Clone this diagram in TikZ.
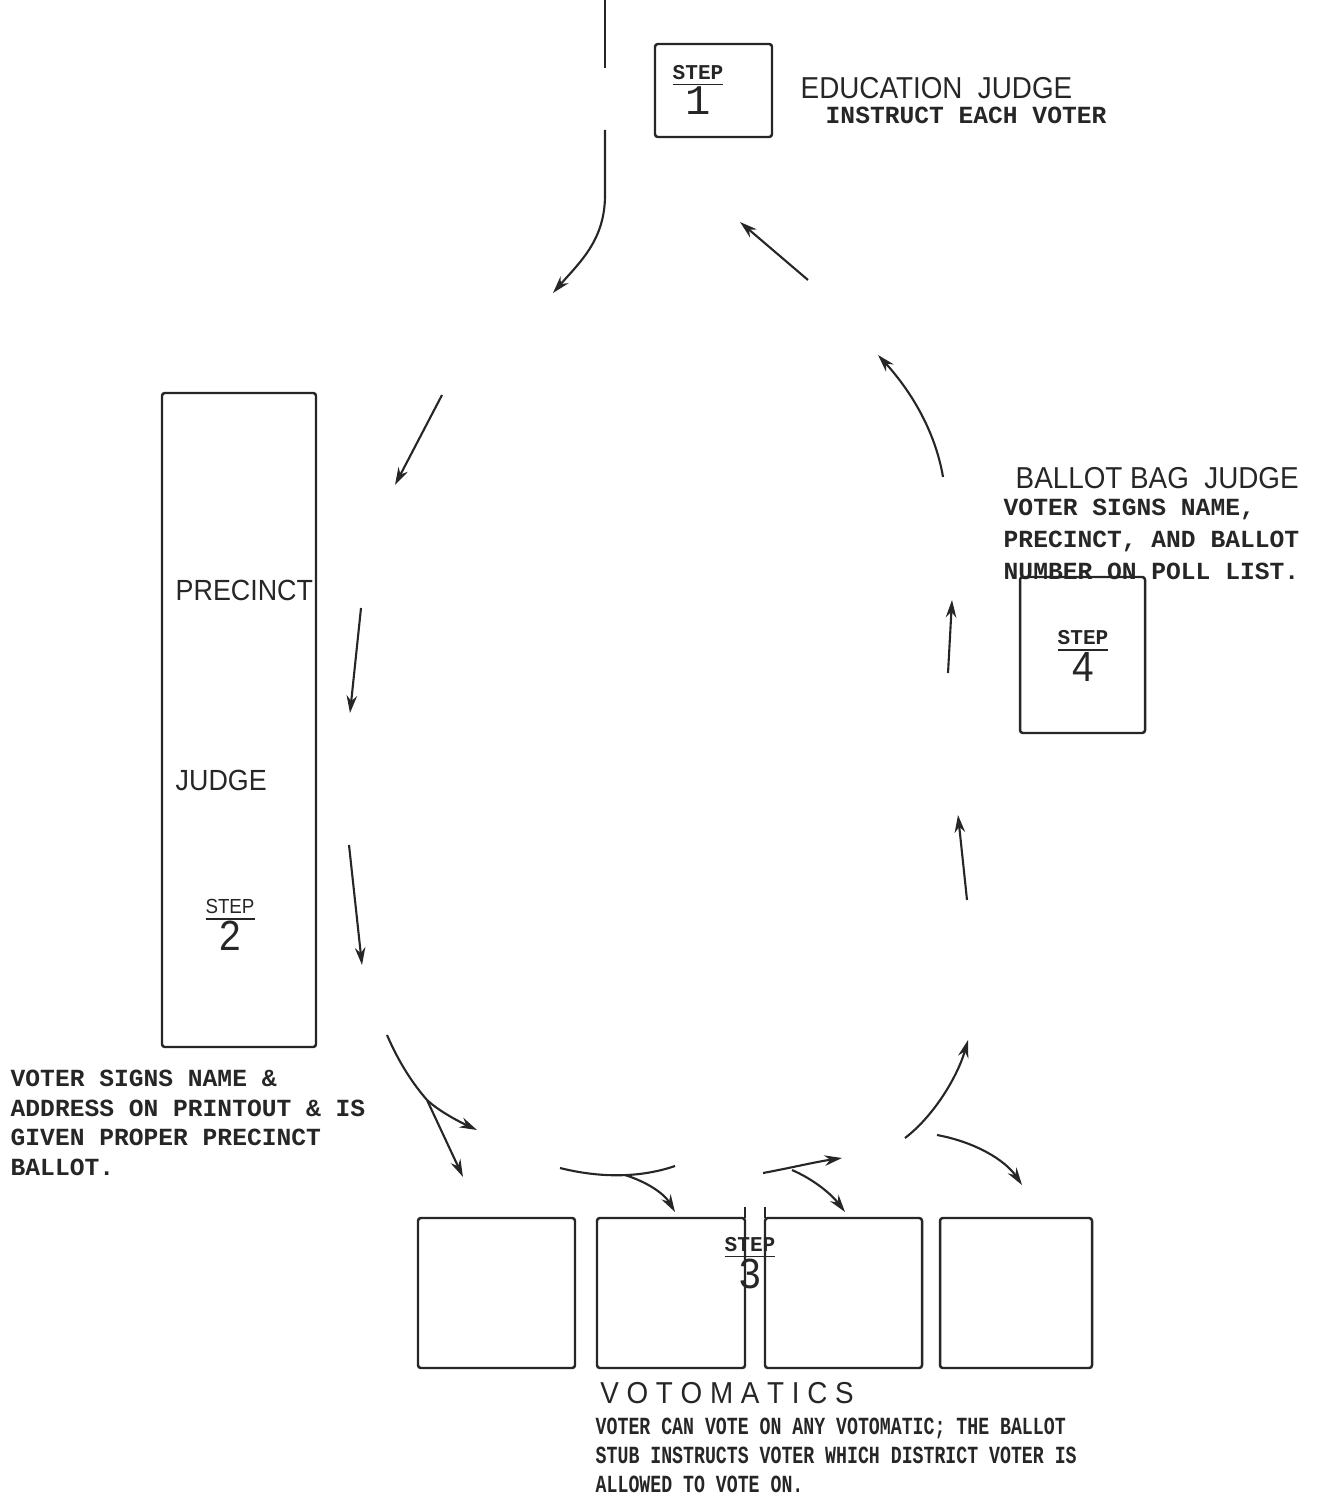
\documentclass[tikz,border=0pt]{standalone}
\usepackage{fontspec}
\usetikzlibrary{arrows.meta}
\newfontfamily\letterfont[FakeStretch=0.92]{Liberation Sans}
\newfontfamily\typefont{Liberation Mono}
\newfontfamily\typecond[FakeStretch=0.74]{Liberation Mono}
\definecolor{ink}{HTML}{262626}
\newcommand{\steptag}[2][\letterfont]{\underline{STEP}\\[-1pt]{#1\mdseries\fontsize{12}{12}\selectfont #2}}
\tikzset{
  flow/.style={ink,line width=0.6pt,-{Stealth[length=5pt,width=3pt]}},
  plain/.style={ink,line width=0.6pt},
  booth/.style={ink,line width=0.7pt,rounded corners=0.8pt},
  heading/.style={font=\letterfont\fontsize{8.6}{9}\selectfont,inner sep=0pt,anchor=west,ink},
  typed/.style={font=\typefont\bfseries\fontsize{7}{9.1}\selectfont,inner sep=0pt,align=left,ink},
  steplbl/.style={font=\typefont\bfseries\fontsize{6}{7}\selectfont,align=center,inner sep=0pt,ink},
}

\begin{document}
\begin{tikzpicture}[x=0.01cm,y=-0.01cm]
  \useasboundingbox (0,0) rectangle (1319,1501);
  % step 1 : education judge
  \draw[plain] (605,0) -- (605,68);
  \draw[booth] (655,44) rectangle (772,137);
  \node[steplbl] (step1) at (698,90) {\steptag[\typefont]{1}};
  \node[heading] (edujudge) at (800,88) {EDUCATION\ \ JUDGE};
  \node[typed,anchor=west] (edunote) at (825,115) {INSTRUCT EACH VOTER};
  \draw[flow] (605,130) -- (605,195) .. controls (605,240) and (580,262) .. (553,293);
  \draw[flow] (808,280) -- (740,222);

  % step 2 : precinct judge
  \draw[booth] (162,393) rectangle (316,1047);
  \node[heading,font=\letterfont\fontsize{8.3}{9}\selectfont] (precinct) at (175,590) {PRECINCT};
  \node[heading,font=\letterfont\fontsize{8.3}{9}\selectfont] (judge) at (175,780) {JUDGE};
  \node[steplbl,font=\letterfont\fontsize{5.8}{7}\selectfont] (step2) at (230,925) {\steptag{2}};
  \node[typed,anchor=north west,font=\typefont\bfseries\fontsize{7}{8.5}\selectfont] (signnote) at (10,1069)
    {VOTER SIGNS NAME \&\\ADDRESS ON PRINTOUT \& IS\\GIVEN PROPER PRECINCT\\BALLOT.};
  \draw[flow] (442,395) -- (395,485);
  \draw[flow] (361,608) -- (350,713);
  \draw[flow] (349,845) -- (362,965);
  \coordinate (fork) at (427,1100);
  \draw[plain] (387,1035) .. controls (400,1065) and (414,1085) .. (fork);
  \draw[flow] (fork) .. controls (440,1112) and (460,1122) .. (477,1130);
  \draw[flow] (fork) -- (463,1177);

  % step 3 : votomatics
  \draw[booth] (418,1218) rectangle (575,1368);
  \draw[booth] (597,1218) rectangle (745,1368);
  \draw[booth] (765,1218) rectangle (922,1368);
  \draw[booth] (940,1218) rectangle (1092,1368);
  \draw[booth] (745,1207) -- (745,1218);
  \draw[booth] (765,1207) -- (765,1218);
  \node[steplbl] (step3) at (750,1263) {\steptag{3}};
  \node[heading,anchor=center] (voto) at (727,1393) {V O T O M A T I C S};
  \node[typed,anchor=north west,font=\typecond\bfseries\fontsize{7}{8.25}\selectfont] (votonote) at (595,1417)
    {VOTER CAN VOTE ON ANY VOTOMATIC; THE BALLOT\\STUB INSTRUCTS VOTER WHICH DISTRICT VOTER IS\\ALLOWED TO VOTE ON.};
  \coordinate (split2) at (625,1175);
  \draw[plain] (560,1168) .. controls (600,1178) and (640,1178) .. (675,1166);
  \draw[flow] (split2) .. controls (650,1183) and (665,1195) .. (675,1212);
  \coordinate (split3) at (792,1170);
  \draw[flow] (763,1173) .. controls (790,1168) and (815,1162) .. (842,1158);
  \draw[flow] (split3) .. controls (815,1180) and (832,1195) .. (845,1212);
  \draw[flow] (905,1138) .. controls (935,1115) and (958,1075) .. (968,1040);
  \draw[flow] (937,1135) .. controls (975,1142) and (1005,1160) .. (1022,1185);

  % step 4 : ballot bag judge
  \draw[flow] (967,900) -- (958,815);
  \draw[flow] (948,673) -- (952,600);
  \draw[booth] (1020,577) rectangle (1145,733);
  \node[steplbl] (step4) at (1083,656) {\steptag{4}};
  \node[heading] (bagjudge) at (1015,478) {BALLOT\ BAG\ \ JUDGE};
  \node[typed,anchor=north west] (bagnote) at (1003,498)
    {VOTER SIGNS NAME,\\PRECINCT, AND BALLOT\\NUMBER ON POLL LIST.};
  \draw[flow] (943,477) .. controls (935,430) and (910,390) .. (878,355);
\end{tikzpicture}
\end{document}
